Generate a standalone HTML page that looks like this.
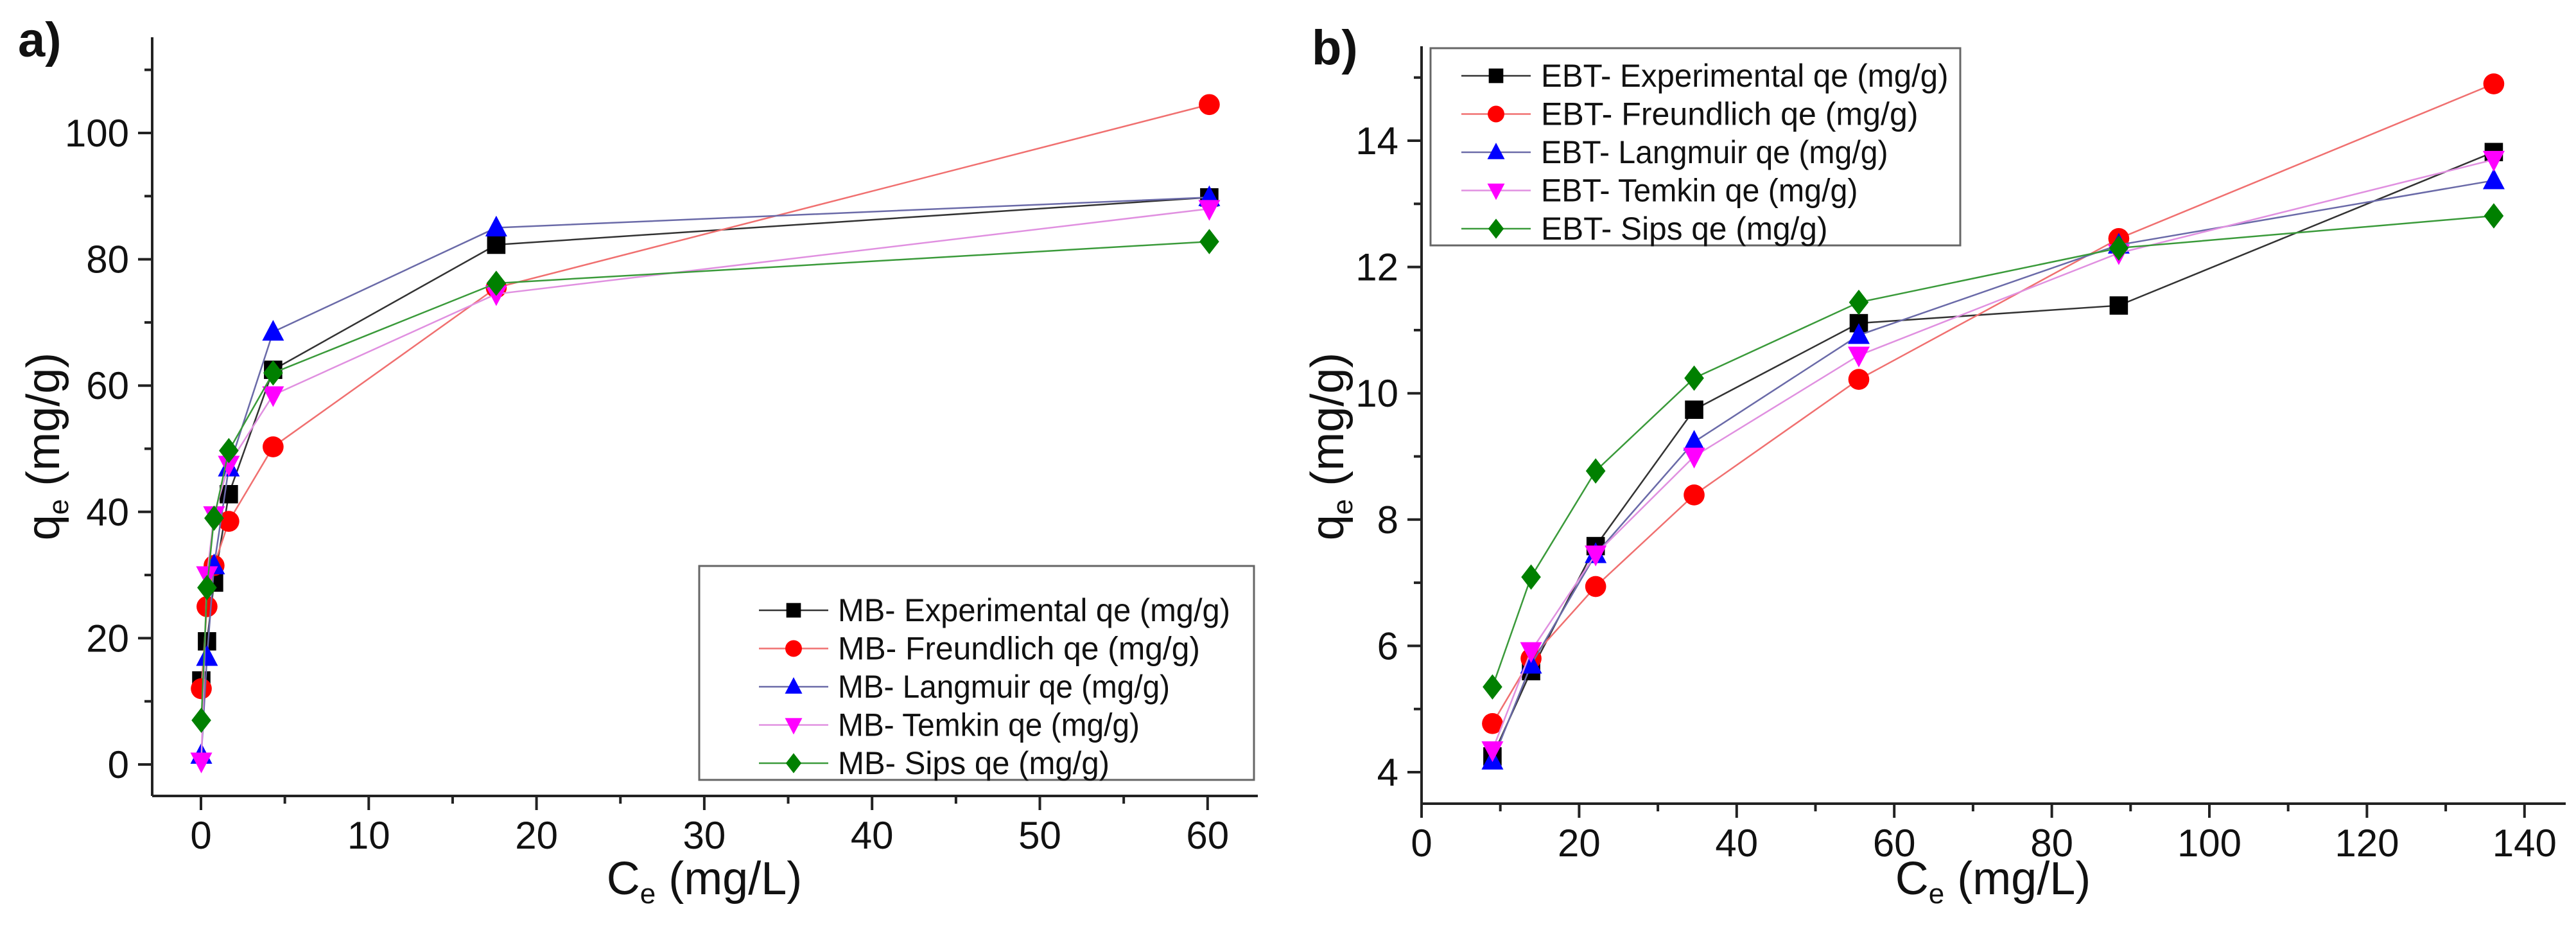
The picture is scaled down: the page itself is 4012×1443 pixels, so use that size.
<!DOCTYPE html>
<html><head><meta charset="utf-8"><style>
html,body{margin:0;padding:0;background:#fff}
svg{display:block}
text{font-family:"Liberation Sans",Arial,sans-serif;fill:#111}
</style></head><body>
<svg id="fig" width="4012" height="1443" viewBox="0 0 4012 1443" xmlns="http://www.w3.org/2000/svg"></svg>
<script>
// ---- Panel a data (MB) ----
const aSeriesNames = ["MB- Experimental qe (mg/g)","MB- Freundlich qe (mg/g)","MB- Langmuir qe (mg/g)","MB- Temkin qe (mg/g)","MB- Sips qe (mg/g)"];
const aX = [0.02, 0.36, 0.78, 1.66, 4.3, 17.6, 60.1];
const aExperimental = [13.3, 19.5, 28.8, 42.8, 62.5, 82.3, 89.8];
const aFreundlich = [12.0, 25.0, 31.5, 38.5, 50.3, 75.5, 104.5];
const aLangmuir = [1.5, 17.0, 31.5, 47.0, 68.5, 85.0, 89.8];
const aTemkin = [0.5, 30.0, 39.5, 47.5, 58.5, 74.5, 88.0];
const aSips = [7.0, 28.0, 39.0, 49.7, 62.0, 76.2, 82.8];
const aXTicks = [0,10,20,30,40,50,60];
const aYTicks = [0,20,40,60,80,100];
// ---- Panel b data (EBT) ----
const bSeriesNames = ["EBT- Experimental qe (mg/g)","EBT- Freundlich qe (mg/g)","EBT- Langmuir qe (mg/g)","EBT- Temkin qe (mg/g)","EBT- Sips qe (mg/g)"];
const bX = [9.0, 13.9, 22.1, 34.6, 55.5, 88.5, 136.1];
const bExperimental = [4.25, 5.6, 7.58, 9.74, 11.11, 11.39, 13.82];
const bFreundlich = [4.77, 5.8, 6.94, 8.39, 10.22, 12.45, 14.9];
const bLangmuir = [4.18, 5.7, 7.45, 9.23, 10.92, 12.35, 13.37];
const bTemkin = [4.35, 5.92, 7.45, 9.0, 10.6, 12.22, 13.7];
const bSips = [5.35, 7.09, 8.77, 10.24, 11.44, 12.3, 12.81];
const bXTicks = [0,20,40,60,80,100,120,140];
const bYTicks = [4,6,8,10,12,14];

const NS="http://www.w3.org/2000/svg";
const svg=document.getElementById('fig');
function mk(tag,attrs,parent){const e=document.createElementNS(NS,tag);for(const k in attrs)e.setAttribute(k,attrs[k]);(parent||svg).appendChild(e);return e;}

const styles=[
 {line:"#333",fill:"#000",m:"square"},
 {line:"#f07070",fill:"#f00",m:"circle"},
 {line:"#6a6aa8",fill:"#00f",m:"tri"},
 {line:"#e090e0",fill:"#f0f",m:"tridown"},
 {line:"#3a9a3a",fill:"#008000",m:"diamond"}];
const keys=["experimental","freundlich","langmuir","temkin","sips"];

function marker(g,type,cx,cy,fill,s){
 let e;
 if(type==="square")e=mk('rect',{x:cx-s*0.42,y:cy-s*0.42,width:s*0.84,height:s*0.84,fill:fill},g);
 else if(type==="circle")e=mk('circle',{cx:cx,cy:cy,r:s*0.48,fill:fill},g);
 else if(type==="tri")e=mk('polygon',{points:`${cx},${cy-s*0.55} ${cx+s*0.5},${cy+s*0.4} ${cx-s*0.5},${cy+s*0.4}`,fill:fill},g);
 else if(type==="tridown")e=mk('polygon',{points:`${cx},${cy+s*0.55} ${cx+s*0.5},${cy-s*0.4} ${cx-s*0.5},${cy-s*0.4}`,fill:fill},g);
 else e=mk('polygon',{points:`${cx},${cy-s*0.58} ${cx+s*0.45},${cy} ${cx},${cy+s*0.58} ${cx-s*0.45},${cy}`,fill:fill},g);
 return e;
}

function panel(cfg){
 const g=mk('g',{});
 
 
 const X=v=>cfg.x0+(v-cfg.xa)*cfg.xs;
 const Y=v=>cfg.y0-(v-cfg.ya)*cfg.ys;
 cfg.series.forEach((vals,i)=>{
  const st=styles[i];
  const sg=mk('g',{},g);
  
  
  const pts=cfg.xs_data.map((xv,j)=>X(xv)+','+Y(vals[j])).join(' ');
  const pl=mk('polyline',{points:pts,fill:'none',stroke:st.line,'stroke-width':2.5},sg);
  
  
  cfg.xs_data.forEach((xv,j)=>{
   const m=marker(sg,st.m,X(xv),Y(vals[j]),st.fill,34);
   
   
  });
 });
 const ax=mk('line',{x1:cfg.axL,y1:cfg.axB,x2:cfg.axR,y2:cfg.axB,stroke:'#222','stroke-width':4},g);
 
 
 const ay=mk('line',{x1:cfg.axL,y1:cfg.axT,x2:cfg.axL,y2:cfg.axB,stroke:'#222','stroke-width':4},g);
 
 
 cfg.xTicks.forEach(t=>{
  mk('line',{x1:X(t),y1:cfg.axB,x2:X(t),y2:cfg.axB+22,stroke:'#222','stroke-width':4},g);
  if(X(t+cfg.xMinor)<cfg.axR)mk('line',{x1:X(t+cfg.xMinor),y1:cfg.axB,x2:X(t+cfg.xMinor),y2:cfg.axB+12,stroke:'#222','stroke-width':4},g);
  const tl=mk('text',{x:X(t),y:cfg.axB+82,'font-size':60,'text-anchor':'middle'},g);
  tl.textContent=t;
  
  
 });
 cfg.yTicks.forEach(t=>{
  mk('line',{x1:cfg.axL-22,y1:Y(t),x2:cfg.axL,y2:Y(t),stroke:'#222','stroke-width':4},g);
  if(Y(t+cfg.yMinor)>cfg.axT)mk('line',{x1:cfg.axL-12,y1:Y(t+cfg.yMinor),x2:cfg.axL,y2:Y(t+cfg.yMinor),stroke:'#222','stroke-width':4},g);
  if(Y(t-cfg.yMinor)<cfg.axB && t===cfg.yTicks[0])mk('line',{x1:cfg.axL-12,y1:Y(t-cfg.yMinor),x2:cfg.axL,y2:Y(t-cfg.yMinor),stroke:'#222','stroke-width':4},g);
  const tl=mk('text',{x:cfg.axL-36,y:Y(t)+21,'font-size':60,'text-anchor':'end'},g);
  tl.textContent=t;
  
  
 });
 const xt=mk('text',{x:cfg.xTitleX,y:1392,'font-size':72,'text-anchor':'middle'},g);
 xt.innerHTML='C<tspan font-size="44" dy="14">e</tspan><tspan dy="-14"> (mg/L)</tspan>';
 
 
 const yt=mk('text',{x:0,y:0,'font-size':72,'text-anchor':'middle',transform:`translate(${cfg.yTitleX},${cfg.yTitleY}) rotate(-90)`},g);
 yt.innerHTML='q<tspan font-size="44" dy="14">e</tspan><tspan dy="-14"> (mg/g)</tspan>';
 
 
 const pl=mk('text',{x:cfg.labX,y:cfg.labY,'font-size':76,'font-weight':'bold',fill:'#333'},g);
 pl.textContent=cfg.label;
 
 
 const lg=mk('g',{},g);
 
 
 mk('rect',{x:cfg.lg.x,y:cfg.lg.y,width:cfg.lg.w,height:cfg.lg.h,fill:'#fff',stroke:'#666','stroke-width':3},lg);
 cfg.names.forEach((n,i)=>{
  const ey=cfg.lg.y0+i*cfg.lg.dy;
  const eg=mk('g',{},lg);
  
  
  mk('line',{x1:cfg.lg.lx,y1:ey,x2:cfg.lg.lx+108,y2:ey,stroke:styles[i].line,'stroke-width':2.5},eg);
  marker(eg,styles[i].m,cfg.lg.lx+54,ey,styles[i].fill,27);
  const t=mk('text',{x:cfg.lg.tx,y:ey+17,'font-size':50,textLength:n.length*cfg.lg.cw,lengthAdjust:'spacingAndGlyphs'},eg);
  t.textContent=n;
 });
}

panel({name:'panel-a-mb',prefix:'a',label:'a)',labX:28,labY:88,
 xa:0,xs:26.13,x0:313,ya:0,ys:9.83,y0:1190,
 axL:237,axR:1959,axT:58,axB:1239,
 xTicks:aXTicks,yTicks:aYTicks,xMinor:5,yMinor:10,
 xs_data:aX,series:[aExperimental,aFreundlich,aLangmuir,aTemkin,aSips],names:aSeriesNames,
 xTitleX:1097,yTitleX:92,yTitleY:695,
 lg:{x:1089,y:881,w:864,h:333,y0:950,dy:59.5,lx:1182,tx:1305,cw:23.5}});
panel({name:'panel-b-ebt',prefix:'b',label:'b)',labX:2043,labY:100,
 xa:0,xs:12.27,x0:2214,ya:4,ys:98.3,y0:1202,
 axL:2214,axR:3996,axT:72,axB:1251,
 xTicks:bXTicks,yTicks:bYTicks,xMinor:10,yMinor:1,
 xs_data:bX,series:[bExperimental,bFreundlich,bLangmuir,bTemkin,bSips],names:bSeriesNames,
 xTitleX:3104,yTitleX:2092,yTitleY:695,
 lg:{x:2228,y:75,w:825,h:307,y0:118,dy:59.5,lx:2276,tx:2400,cw:23.5}});
</script>
</body></html>
